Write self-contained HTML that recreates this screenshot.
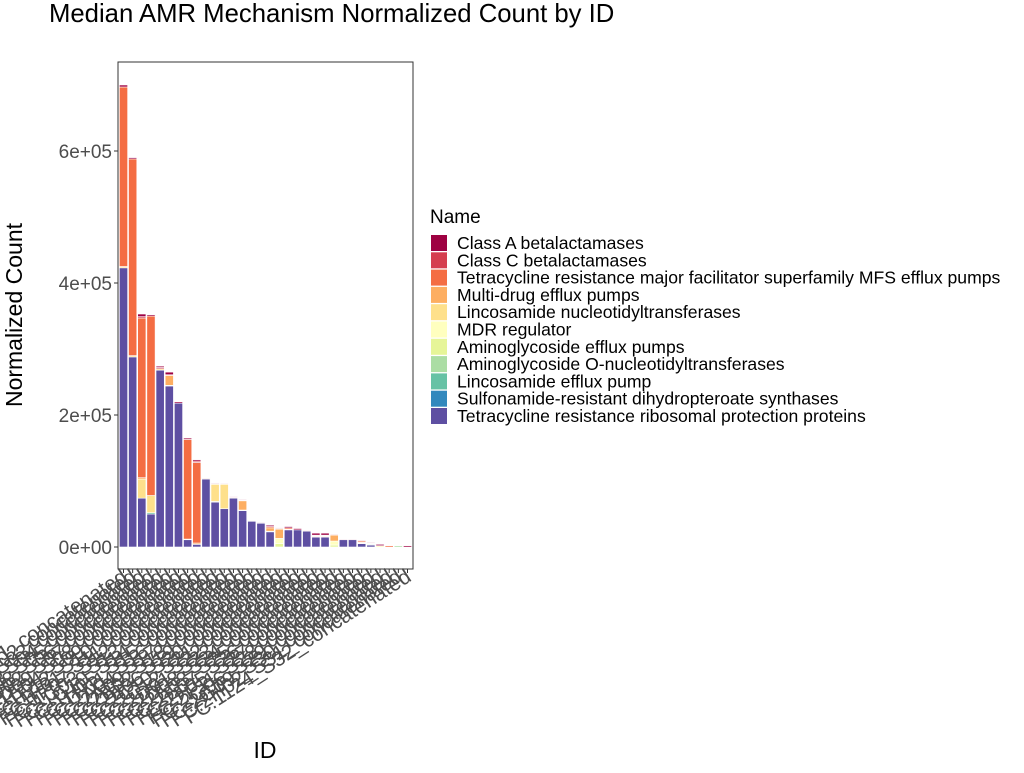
<!DOCTYPE html>
<html><head><meta charset="utf-8"><style>
body{margin:0;background:#fff;width:1024px;height:768px;overflow:hidden;font-family:"Liberation Sans",sans-serif}
</style></head><body>
<svg id="chart" width="1024" height="768" xmlns="http://www.w3.org/2000/svg" font-family="Liberation Sans, sans-serif">
<text x="49" y="22" font-size="25.7" fill="#000">Median AMR Mechanism Normalized Count by ID</text>
<text transform="translate(22,315) rotate(-90)" text-anchor="middle" font-size="23" fill="#000">Normalized Count</text>
<text x="265" y="758" text-anchor="middle" font-size="23" fill="#000">ID</text>
<g id="bars"></g>
<rect x="118" y="62" width="295" height="507" fill="none" stroke="#333" stroke-width="1"/>
<g id="yaxis"></g>
<g id="xaxis"></g>
<g id="legend">
<text x="430" y="223" font-size="19">Name</text>
</g>
</svg>
<script>
const seriesNames=["Class A betalactamases","Class C betalactamases","Tetracycline resistance major facilitator superfamily MFS efflux pumps","Multi-drug efflux pumps","Lincosamide nucleotidyltransferases","MDR regulator","Aminoglycoside efflux pumps","Aminoglycoside O-nucleotidyltransferases","Lincosamide efflux pump","Sulfonamide-resistant dihydropteroate synthases","Tetracycline resistance ribosomal protection proteins"];
const colors=["#9E0142","#D53E4F","#F46D43","#FDAE61","#FEE08B","#FFFFBF","#E6F598","#ABDDA4","#66C2A5","#3288BD","#5E4FA2"];
const ids=["FC:1A02_S01_concatenated","FC:1A05_S02_concatenated","FC:1B11_S03_concatenated","FC:1B14_S04_concatenated","FC:1C03_S05_concatenated","FC:1C08_S06_concatenated","FC:1D02_S07_concatenated","FC:1D09_S08_concatenated","FC:1E04_S09_concatenated","FC:1E12_S10_concatenated","FC:1F01_S11_concatenated","FC:1F07_S12_concatenated","FC:1G03_S13_concatenated","FC:1G10_S14_concatenated","FC:1H05_S15_concatenated","FC:1H11_S16_concatenated","FC:2A04_S17_concatenated","FC:2A09_S18_concatenated","FC:2B02_S19_concatenated","FC:2B06_S20_concatenated","FC:2C10_S21_concatenated","FC:2C12_S22_concatenated","FC:2D01_S23_concatenated","FC:2D08_S24_concatenated","FC:2E03_S25_concatenated","FC:2E07_S26_concatenated","FC:2F05_S27_concatenated","FC:2F11_S28_concatenated","FC:2G06_S29_concatenated","FC:2G09_S30_concatenated","FC:2H02_S31_concatenated","FC:1124_S32_concatenated"];
// values in thousands, order matches seriesNames
const classA=[3,2,4,2,2,4,2,2,2,1,1,1,1,1,0,1,2,1,2,2,0,3,3,1,1,1,1,1,2,0,0,2];
const classC=[0,0,2,0,2,0,0,0,2,0,0,0,1,0,0,0,0,0,0,0,0,0,0,0,0,0,0,0,0,0,0,0];
const tetMFS=[272,298,242,272,0,1,0,151,122,0,1,0,0,1,0,0,2,1,2,0,1,1,1,1,0,0,2,0,0,2,0,0];
const multiDrug=[0,0,2,0,0,15,0,0,2,0,0,0,1,14,0,0,5,14,1,0,0,1,1,9,0,0,1,0,0,0,0,0];
const lincNucl=[2,2,29,26,2,0,0,1,0,0,26,37,0,0,0,0,0,0,0,0,0,1,1,0,0,0,0,0,0,0,0,0];
const mdrReg=[0,0,0,0,0,0,0,0,0,0,0,0,0,0,0,0,0,8,0,0,0,0,0,6,0,0,0,0,2,0,0,0];
const aminoEfflux=[0,0,0,0,0,0,0,0,0,1,0,0,0,0,1,0,0,5,0,0,0,0,0,3,0,0,0,1,0,0,0,0];
const aminoONucl=[0,0,0,0,0,0,0,0,0,0,0,0,0,0,0,0,0,0,0,0,0,0,0,0,0,0,0,1,0,0,2,0];
const lincEfflux=[0,0,0,2,0,1,0,0,0,0,1,0,0,1,0,0,0,0,0,0,0,0,0,0,0,0,0,1,0,0,0,0];
const sulfo=[0,0,0,0,0,0,0,0,0,0,0,0,0,0,0,0,1,0,0,0,0,0,0,0,0,0,1,0,0,0,0,0];
const tetRPP=[423,288,74,50,268,244,218,11,4,103,68,58,74,55,39,36,23,0,26,26,24,15,15,0,11,11,5,3,0,0,0,0];
const series=[classA,classC,tetMFS,multiDrug,lincNucl,mdrReg,aminoEfflux,aminoONucl,lincEfflux,sulfo,tetRPP];
const yTicks=[0,200,400,600];
const yTickLabels=["0e+00","2e+05","4e+05","6e+05"];

const NS="http://www.w3.org/2000/svg";
const px0=118,pw=295,y0=547,yScale=396/600;
const n=ids.length,step=pw/(n-1+1.2);
const xc=i=>px0+(0.6+i)*step;
const yv=v=>y0-v*yScale;
function mk(tag,attrs,parent){const e=document.createElementNS(NS,tag);for(const k in attrs)e.setAttribute(k,attrs[k]);parent.appendChild(e);return e;}
const bars=document.getElementById('bars');
for(let i=0;i<n;i++){
  let cum=0;
  for(let s=series.length-1;s>=0;s--){
    const v=series[s][i]; if(!v)continue;
    const r=mk('rect',{x:xc(i)-step*0.45,y:yv(cum+v),width:step*0.9,height:v*yScale,fill:colors[s],stroke:'#fff','stroke-width':0.6},bars);
    
    
    cum+=v;
  }
}
const ya=document.getElementById('yaxis');
yTicks.forEach((t,k)=>{
  const l=mk('line',{x1:114,x2:118,y1:yv(t),y2:yv(t),stroke:'#333'},ya);
  
  
  const tx=mk('text',{x:112,y:yv(t)+7,'text-anchor':'end','font-size':19,fill:'#4d4d4d'},ya);
  tx.textContent=yTickLabels[k];
  
  
});
const xa=document.getElementById('xaxis');
ids.forEach((id,i)=>{
  const l=mk('line',{x1:xc(i),x2:xc(i),y1:569,y2:573,stroke:'#333'},xa);
  
  
  const tx=mk('text',{transform:`translate(${xc(i)+5},${580}) rotate(-33)`,'text-anchor':'end','font-size':21,fill:'#4d4d4d'},xa);
  tx.textContent=id;
  
  
});
const lg=document.getElementById('legend');
seriesNames.forEach((nm,k)=>{
  const y=235+k*17.3;
  const r=mk('rect',{x:431,y:y,width:16,height:16,fill:colors[k]},lg);
  
  
  const t=mk('text',{x:457,y:y+14,'font-size':17.6,fill:'#000'},lg);
  t.textContent=nm;
  
  
});
</script>
</body></html>
